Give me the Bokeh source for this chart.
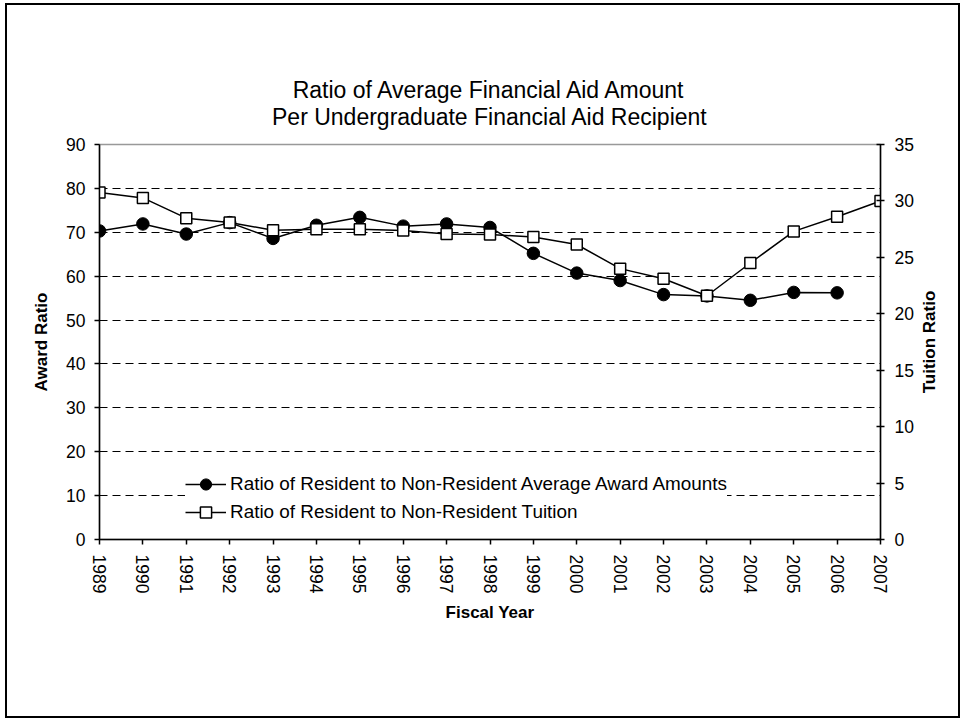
import math
from bokeh.plotting import figure
from bokeh.models import Range1d, LinearAxis, FixedTicker, Legend, LegendItem, Title, Label
from bokeh.embed import file_html
from bokeh.resources import INLINE

years = [1989, 1990, 1991, 1992, 1993, 1994, 1995, 1996, 1997, 1998,
         1999, 2000, 2001, 2002, 2003, 2004, 2005, 2006, 2007]
award_years = [1989, 1990, 1991, 1992, 1993, 1994, 1995, 1996, 1997, 1998,
               1999, 2000, 2001, 2002, 2003, 2004, 2005, 2006]
award_ratio = [70.3, 71.9, 69.6, 72.2, 68.6, 71.6, 73.4, 71.4, 71.9, 71.1,
               65.2, 60.7, 59.0, 55.8, 55.5, 54.5, 56.3, 56.2]
tuition_ratio = [30.75, 30.27, 28.47, 28.09, 27.4, 27.5, 27.5, 27.38, 27.08, 27.02,
                 26.8, 26.14, 24.0, 23.1, 21.6, 24.5, 27.3, 28.6, 30.0]
left_ticks = [0, 10, 20, 30, 40, 50, 60, 70, 80, 90]
grid_ticks = [10, 20, 30, 40, 50, 60, 70, 80]
right_ticks = [0, 5, 10, 15, 20, 25, 30, 35]

title_line1 = "Ratio of Average Financial Aid Amount"
title_line2 = "Per Undergraduate Financial Aid Recipient"
label_award = "Ratio of Resident to Non-Resident Average Award Amounts"
label_tuition = "Ratio of Resident to Non-Resident Tuition"

FONT = "Liberation Sans"

p = figure(width=964, height=721, title=None,
           x_range=Range1d(1989, 2007), y_range=Range1d(0, 90),
           output_backend="svg", toolbar_location=None,
           min_border_left=99, min_border_right=84,
           min_border_top=144, min_border_bottom=182)

# outer chart border drawn as an overlay box on the figure element
p.stylesheets = [
    ":host::after { content: ''; position: absolute; left: 5px; top: 3px; "
    "width: 951px; height: 711px; border: 2px solid black; "
    "pointer-events: none; z-index: 1000; box-sizing: content-box; }"
]

p.extra_y_ranges = {"tuition": Range1d(0, 35)}

# titles (added nearest-first)
t2 = Title(text=title_line2, align="center", text_font=FONT, text_font_size="23px",
           text_font_style="normal", text_color="black", standoff=29)
t1 = Title(text=title_line1, align="center", text_font=FONT, text_font_size="23px",
           text_font_style="normal", text_color="black", standoff=-30.4)
p.add_layout(t2, "above")
p.add_layout(t1, "above")

p.outline_line_color = "#999999"
p.outline_line_width = 1.5

# grid
p.xgrid.visible = False
p.ygrid.ticker = FixedTicker(ticks=grid_ticks)
p.ygrid.grid_line_color = "black"
p.ygrid.grid_line_dash = "8 5"
p.ygrid.grid_line_width = 1

# x axis
p.xaxis.ticker = FixedTicker(ticks=years)
p.xaxis.major_label_orientation = "vertical"
p.xaxis.axis_label = "Fiscal Year"
p.xaxis.major_label_standoff = 10
p.xaxis.axis_label_standoff = 7

# left axis
p.yaxis.ticker = FixedTicker(ticks=left_ticks)
p.yaxis.axis_label = "Award Ratio"
p.yaxis.major_label_standoff = 9
p.yaxis.axis_label_standoff = 12

right_axis = LinearAxis(y_range_name="tuition", ticker=FixedTicker(ticks=right_ticks))
p.add_layout(right_axis, "right")

for ax in [p.xaxis[0], p.yaxis[0], right_axis]:
    ax.axis_line_color = "black"
    ax.axis_line_width = 1.5
    ax.major_tick_line_color = "black"
    ax.major_tick_line_width = 1.5
    ax.minor_tick_line_color = None
    ax.major_tick_in = 0
    ax.major_tick_out = 5
    ax.major_label_text_font = FONT
    ax.major_label_text_font_size = "17.5px"
    ax.major_label_text_color = "black"
    ax.axis_label_text_font = FONT
    ax.axis_label_text_font_size = "17px"
    ax.axis_label_text_font_style = "bold"
    ax.axis_label_text_color = "black"

right_axis.major_tick_in = 4
right_axis.major_tick_out = 4
right_axis.major_label_standoff = 10

# right-hand axis title, reading bottom-to-top like the left one
right_title = Label(x=2007, y=45, x_offset=49, text="Tuition Ratio", angle=math.pi / 2,
                    text_align="center", text_baseline="middle",
                    text_font=FONT, text_font_size="17px", text_font_style="bold",
                    text_color="black")
p.add_layout(right_title, "right")

# series
l1 = p.line(award_years, award_ratio, line_color="black", line_width=1.5)
s1 = p.scatter(award_years, award_ratio, marker="circle", size=12.5,
               fill_color="black", line_color="black")
l2 = p.line(years, tuition_ratio, line_color="black", line_width=1.5,
            y_range_name="tuition")
s2 = p.scatter(years, tuition_ratio, marker="square", size=11,
               fill_color="white", line_color="black", line_width=1.5,
               y_range_name="tuition")

legend = Legend(items=[LegendItem(label=label_award, renderers=[l1, s1]),
                       LegendItem(label=label_tuition, renderers=[l2, s2])],
                location=(86, 13), margin=0, padding=5, spacing=0,
                glyph_width=41, glyph_height=28, label_height=20, label_standoff=4,
                label_text_font=FONT, label_text_font_size="18.9px",
                label_text_color="black",
                border_line_color=None, background_fill_color="white",
                background_fill_alpha=1.0)
p.add_layout(legend)

open("out.html", "w").write(file_html(p, INLINE))
